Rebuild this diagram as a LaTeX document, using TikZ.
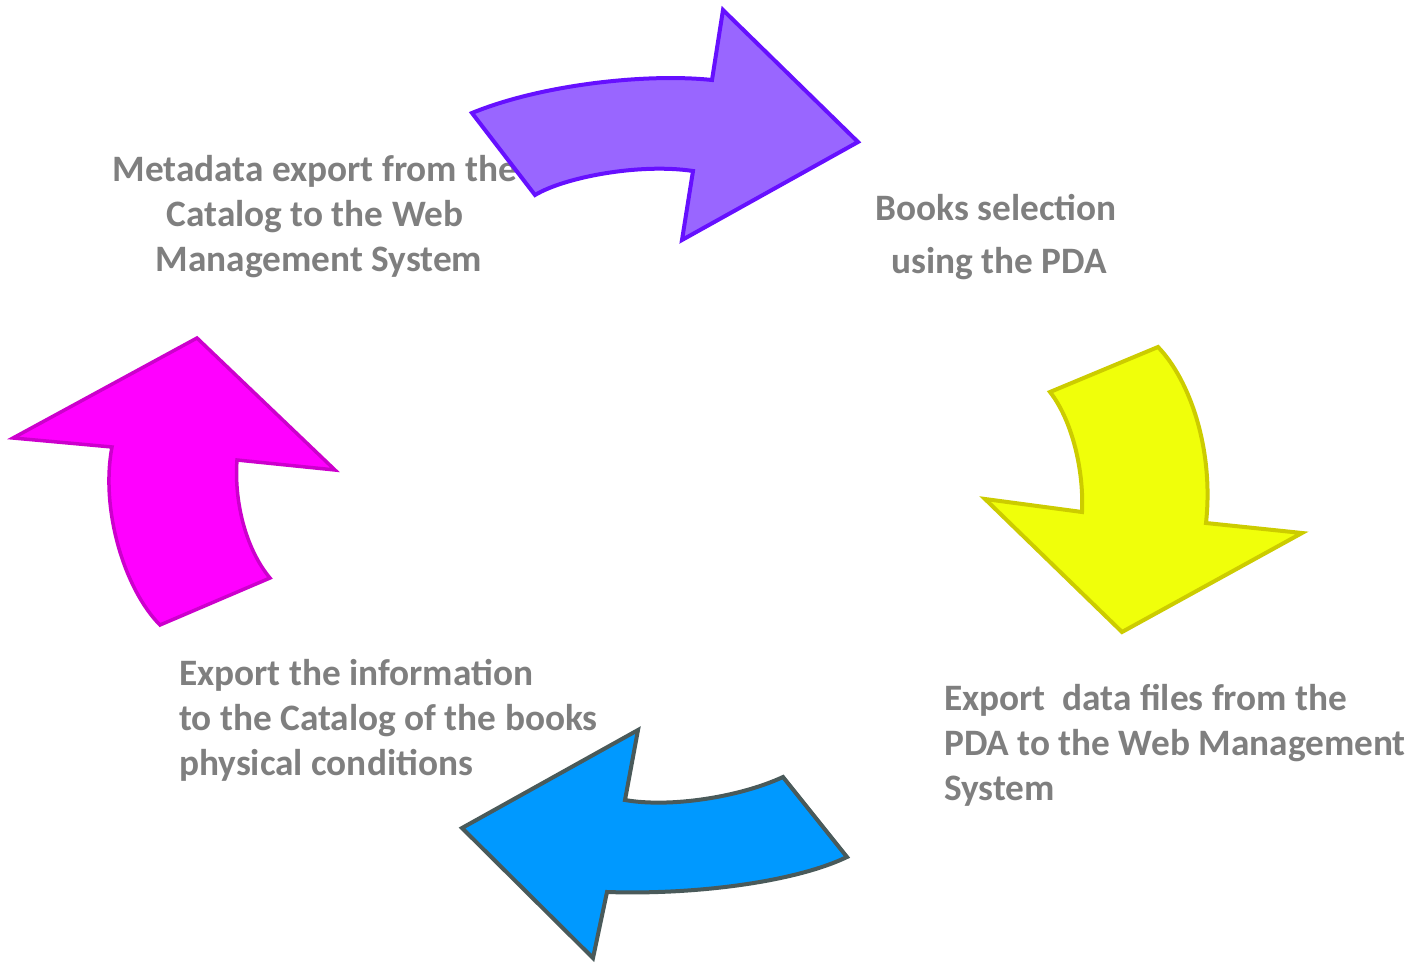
\documentclass[tikz,border=0pt]{standalone}
\usepackage{fontspec}
\setmainfont{Carlito}
\begin{document}
\begin{tikzpicture}[x=1pt,y=-1pt,
  lbl/.style={inner sep=0pt, text=txtgray, font=\bfseries\fontsize{37.3}{45}\selectfont},
  arr/.style={line width=4pt, line join=miter}]
\definecolor{txtgray}{HTML}{7F7F7F}
\definecolor{pfill}{HTML}{9966FF}
\definecolor{pline}{HTML}{6610FF}
\definecolor{yfill}{HTML}{F0FF0A}
\definecolor{yline}{HTML}{CCCC00}
\definecolor{bfill}{HTML}{0099FF}
\definecolor{bline}{HTML}{4A5A5A}
\definecolor{mfill}{HTML}{FF00FF}
\definecolor{mline}{HTML}{CC00CC}
\useasboundingbox (0,0) rectangle (1419,963);
% labels
\node[lbl, anchor=base] (m1) at (315,181) {Metadata export from the};
\node[lbl, anchor=base] (m2) at (315,226) {Catalog to the Web};
\node[lbl, anchor=base] (m3) at (319,271) {Management System};
\node[lbl, anchor=base] (b1) at (996,220) {Books selection};
\node[lbl, anchor=base] (b2) at (999,273) {using the PDA};
\node[lbl, anchor=base west] (e1) at (944,710) {Export\ \ data files from the};
\node[lbl, anchor=base west] (e2) at (944,755) {PDA to the Web Management};
\node[lbl, anchor=base west] (e3) at (944,800) {System};
\node[lbl, anchor=base west] (c1) at (179,685) {Export the information};
\node[lbl, anchor=base west] (c2) at (179,730) {to the Catalog of the books};
\node[lbl, anchor=base west] (c3) at (179,775) {physical conditions};
% purple arrow
\draw[arr, draw=pline, fill=pfill] (472,113) -- (535,195)
  .. controls (565,177) and (640,163) .. (693,171) -- (682,240) -- (858,142)
  -- (723,10) -- (712,80) .. controls (645,73) and (540,85) .. cycle;
% yellow arrow
\draw[arr, draw=yline, fill=yfill] (1050,392) -- (1158,347)
  .. controls (1190,380) and (1214,450) .. (1206,523) -- (1302,533)
  -- (1122,632) -- (985,499) -- (1082,512)
  .. controls (1084,470) and (1072,420) .. cycle;
% blue arrow
\draw[arr, draw=bline, fill=bfill] (638,730) -- (625,800)
  .. controls (670,808) and (740,797) .. (783,777) -- (847,857)
  .. controls (795,882) and (695,895) .. (607,892) -- (593,958)
  -- (462,828) -- cycle;
% magenta arrow
\draw[arr, line width=3.5pt, draw=mline, fill=mfill] (197,338) -- (335,470) -- (237,460)
  .. controls (234,500) and (245,548) .. (270,578) -- (160,625)
  .. controls (125,590) and (100,510) .. (112,447) -- (13,438) -- cycle;
\end{tikzpicture}
\end{document}
